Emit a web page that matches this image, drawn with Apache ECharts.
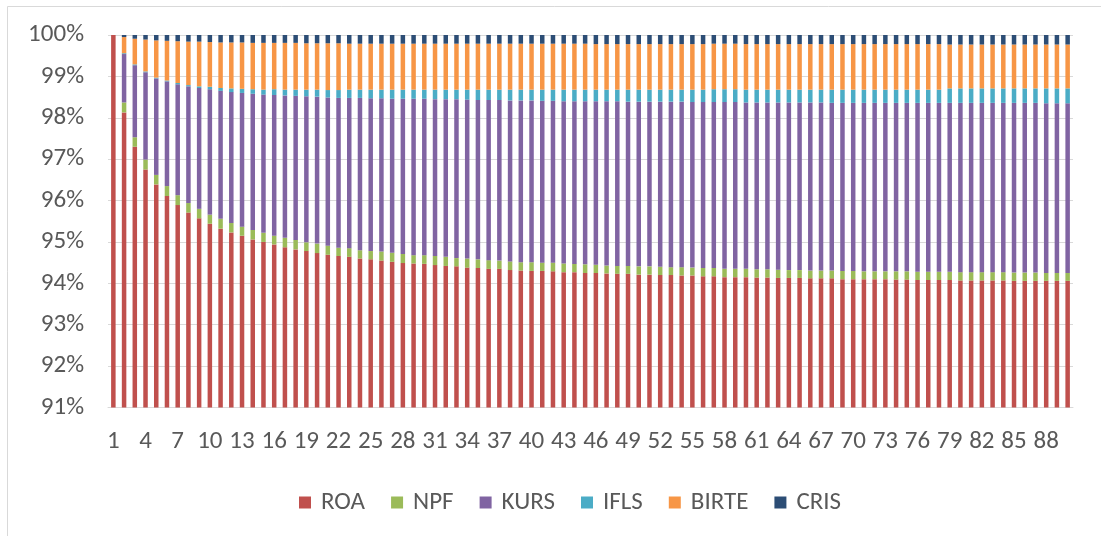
<!DOCTYPE html>
<html>
<head>
<meta charset="utf-8">
<script src="https://cdn.jsdelivr.net/npm/echarts@6/dist/echarts.min.js"></script>
<style>
  html, body { margin: 0; padding: 0; background: #ffffff; }
  #chart { width: 1101px; height: 536px; }
</style>
</head>
<body>
<div id="chart"></div>
<script>
const categories = Array.from({length: 90}, (_, i) => String(i + 1));

const ROA = [
  100.00, 98.13, 97.30, 96.75, 96.39, 96.11, 95.89, 95.71, 95.57, 95.44,
  95.32, 95.23, 95.15, 95.06, 95.00, 94.94, 94.87, 94.82, 94.78, 94.73,
  94.69, 94.66, 94.64, 94.60, 94.58, 94.55, 94.52, 94.49, 94.48, 94.47,
  94.44, 94.42, 94.41, 94.38, 94.37, 94.35, 94.35, 94.32, 94.31, 94.30,
  94.30, 94.29, 94.27, 94.27, 94.25, 94.25, 94.24, 94.23, 94.23, 94.21,
  94.21, 94.20, 94.20, 94.19, 94.19, 94.17, 94.17, 94.15, 94.15, 94.15,
  94.14, 94.14, 94.13, 94.13, 94.13, 94.12, 94.12, 94.12, 94.10, 94.10,
  94.10, 94.10, 94.10, 94.09, 94.09, 94.08, 94.08, 94.08, 94.08, 94.07,
  94.07, 94.07, 94.07, 94.07, 94.06, 94.06, 94.06, 94.06, 94.06, 94.06
];
const NPF = [
  0.00, 0.24, 0.23, 0.24, 0.23, 0.24, 0.24, 0.23, 0.23, 0.22,
  0.24, 0.23, 0.22, 0.23, 0.22, 0.21, 0.23, 0.23, 0.21, 0.23,
  0.22, 0.20, 0.21, 0.20, 0.20, 0.22, 0.22, 0.22, 0.20, 0.21,
  0.22, 0.22, 0.20, 0.22, 0.21, 0.21, 0.20, 0.21, 0.20, 0.21,
  0.20, 0.21, 0.21, 0.20, 0.21, 0.20, 0.19, 0.19, 0.19, 0.20,
  0.20, 0.20, 0.19, 0.20, 0.19, 0.20, 0.20, 0.20, 0.20, 0.20,
  0.20, 0.20, 0.20, 0.19, 0.19, 0.19, 0.19, 0.19, 0.20, 0.20,
  0.19, 0.19, 0.19, 0.20, 0.20, 0.20, 0.20, 0.20, 0.20, 0.20,
  0.20, 0.20, 0.20, 0.20, 0.20, 0.20, 0.20, 0.19, 0.19, 0.19
];
const KURS = [
  0.00, 1.17, 1.74, 2.11, 2.33, 2.53, 2.68, 2.82, 2.92, 3.03,
  3.09, 3.16, 3.23, 3.29, 3.34, 3.40, 3.44, 3.48, 3.53, 3.55,
  3.58, 3.62, 3.63, 3.68, 3.69, 3.70, 3.72, 3.75, 3.78, 3.78,
  3.79, 3.81, 3.84, 3.84, 3.85, 3.87, 3.88, 3.89, 3.91, 3.91,
  3.91, 3.91, 3.92, 3.93, 3.94, 3.95, 3.97, 3.98, 3.97, 3.98,
  3.98, 3.99, 4.00, 4.00, 4.00, 4.01, 4.01, 4.03, 4.03, 4.02,
  4.03, 4.03, 4.04, 4.05, 4.05, 4.06, 4.06, 4.05, 4.06, 4.06,
  4.07, 4.07, 4.07, 4.07, 4.07, 4.08, 4.08, 4.08, 4.08, 4.09,
  4.09, 4.09, 4.09, 4.09, 4.10, 4.10, 4.10, 4.10, 4.10, 4.10
];
const IFLS = [
  0.00, 0.02, 0.02, 0.02, 0.02, 0.02, 0.03, 0.03, 0.04, 0.06,
  0.07, 0.09, 0.10, 0.11, 0.12, 0.14, 0.14, 0.15, 0.16, 0.17,
  0.18, 0.19, 0.20, 0.20, 0.21, 0.21, 0.22, 0.22, 0.22, 0.22,
  0.23, 0.23, 0.23, 0.24, 0.25, 0.25, 0.25, 0.26, 0.26, 0.26,
  0.27, 0.27, 0.28, 0.28, 0.28, 0.28, 0.28, 0.28, 0.29, 0.29,
  0.29, 0.29, 0.29, 0.29, 0.30, 0.30, 0.31, 0.31, 0.31, 0.31,
  0.31, 0.31, 0.31, 0.31, 0.31, 0.31, 0.31, 0.32, 0.32, 0.32,
  0.32, 0.32, 0.32, 0.32, 0.32, 0.32, 0.32, 0.32, 0.35, 0.35,
  0.35, 0.35, 0.35, 0.35, 0.35, 0.35, 0.35, 0.36, 0.36, 0.36
];
const BIRTE = [
  0.00, 0.39, 0.62, 0.77, 0.90, 0.96, 1.01, 1.05, 1.08, 1.08,
  1.10, 1.11, 1.12, 1.12, 1.13, 1.12, 1.13, 1.13, 1.12, 1.12,
  1.13, 1.13, 1.11, 1.11, 1.11, 1.11, 1.11, 1.11, 1.11, 1.11,
  1.11, 1.11, 1.11, 1.11, 1.11, 1.11, 1.11, 1.11, 1.11, 1.11,
  1.11, 1.11, 1.11, 1.11, 1.11, 1.10, 1.10, 1.10, 1.10, 1.10,
  1.10, 1.10, 1.10, 1.10, 1.10, 1.10, 1.10, 1.10, 1.10, 1.10,
  1.10, 1.10, 1.10, 1.10, 1.10, 1.10, 1.10, 1.10, 1.10, 1.10,
  1.10, 1.10, 1.10, 1.10, 1.10, 1.10, 1.10, 1.10, 1.06, 1.06,
  1.06, 1.06, 1.06, 1.06, 1.06, 1.06, 1.06, 1.06, 1.06, 1.06
];
const CRIS = [
  0.00, 0.05, 0.09, 0.11, 0.13, 0.14, 0.15, 0.16, 0.16, 0.17,
  0.18, 0.18, 0.18, 0.19, 0.19, 0.19, 0.19, 0.19, 0.20, 0.20,
  0.20, 0.20, 0.21, 0.21, 0.21, 0.21, 0.21, 0.21, 0.21, 0.21,
  0.21, 0.21, 0.21, 0.21, 0.21, 0.21, 0.21, 0.21, 0.21, 0.21,
  0.21, 0.21, 0.21, 0.21, 0.21, 0.22, 0.22, 0.22, 0.22, 0.22,
  0.22, 0.22, 0.22, 0.22, 0.22, 0.22, 0.22, 0.22, 0.22, 0.22,
  0.22, 0.22, 0.22, 0.22, 0.22, 0.22, 0.22, 0.22, 0.22, 0.22,
  0.22, 0.22, 0.22, 0.22, 0.22, 0.22, 0.22, 0.22, 0.23, 0.23,
  0.23, 0.23, 0.23, 0.23, 0.23, 0.23, 0.23, 0.23, 0.23, 0.23
];

const seriesNames = ['ROA', 'NPF', 'KURS', 'IFLS', 'BIRTE', 'CRIS'];
const seriesData = [ROA, NPF, KURS, IFLS, BIRTE, CRIS];
const seriesColors = ['#C0504D', '#9BBB59', '#8064A2', '#4BACC6', '#F79646', '#2C4D75'];
const yTicks = { min: 91, max: 100, interval: 1 };

const FONT = 'Carlito, Calibri, Lato, sans-serif';
const TXT = '#595959';

const chart = echarts.init(document.getElementById('chart'), null, { renderer: 'canvas' });
chart.setOption({
  animation: false,
  backgroundColor: '#ffffff',
  graphic: [{
    type: 'rect',
    shape: { x: 7.5, y: 6.5, width: 1100, height: 540 },
    style: { fill: 'none', stroke: '#d9d9d9', lineWidth: 1 },
    silent: true
  }],
  grid: { left: 108, right: 28, top: 35, height: 372.5, containLabel: false },
  legend: {
    data: seriesNames,
    top: 485,
    left: 294,
    itemWidth: 12,
    itemHeight: 12,
    itemGap: 26,
    icon: 'rect',
    textStyle: { color: TXT, fontSize: 25, fontFamily: FONT, padding: [0, 0, 0, 5] }
  },
  xAxis: {
    type: 'category',
    data: categories,
    axisLine: { show: true, lineStyle: { color: '#d9d9d9', width: 1 } },
    axisTick: { show: false },
    axisLabel: { interval: 2, color: TXT, fontSize: 25, fontFamily: FONT, margin: 22 }
  },
  yAxis: {
    type: 'value',
    min: yTicks.min,
    max: yTicks.max,
    interval: yTicks.interval,
    axisLine: { show: false },
    axisTick: { show: false },
    splitLine: { lineStyle: { color: '#d9d9d9', width: 1 } },
    axisLabel: { formatter: '{value}%', color: TXT, fontSize: 25, fontFamily: FONT, margin: 24 }
  },
  series: seriesNames.map((name, i) => ({
    name: name,
    type: 'bar',
    stack: 'total',
    data: seriesData[i],
    barWidth: '42%',
    itemStyle: { color: seriesColors[i] },
    emphasis: { disabled: true }
  }))
});
</script>
</body>
</html>
